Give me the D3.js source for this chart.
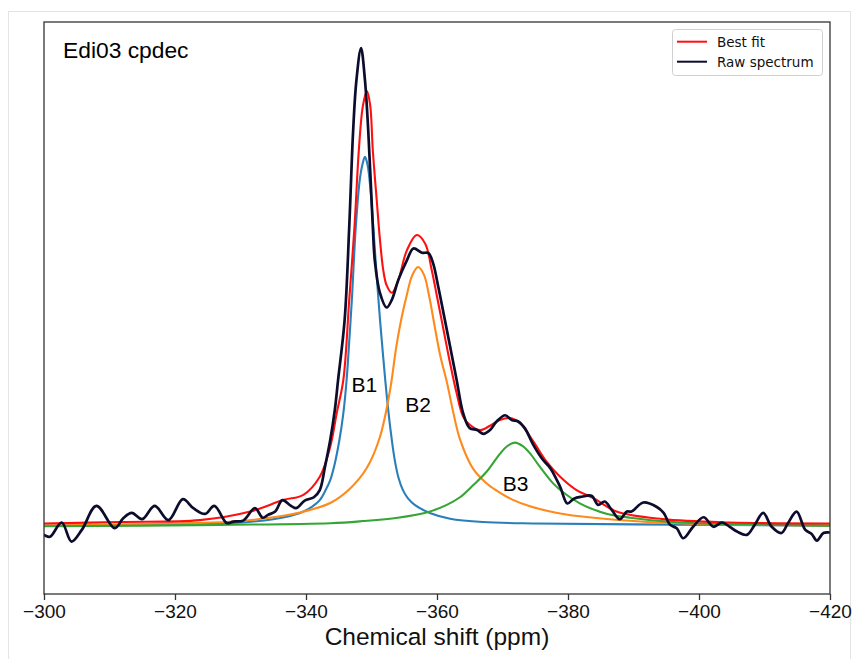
<!DOCTYPE html>
<html>
<head>
<meta charset="utf-8">
<script src="https://cdn.jsdelivr.net/npm/d3@7"></script>
<style>
  html, body { margin: 0; padding: 0; background: #fff; }
  svg { display: block; }
</style>
</head>
<body>
<svg id="chart" width="858" height="659"></svg>
<script>
// ---------- data (chemical shift in ppm, intensity in arbitrary units) ----------
const xTicks = [-300, -320, -340, -360, -380, -400, -420];
const xLimits = [-300, -420];
const yLimits = [-14.5, 105.5];

const rawPpm = [-300.0,-300.9,-302.7,-304.2,-305.8,-308.0,-310.8,-312.1,-313.4,-315.0,-316.9,-319.0,-321.2,-322.8,-324.6,-326.0,-327.9,-328.9,-330.4,-332.2,-333.4,-334.2,-335.3,-336.4,-337.6,-338.5,-339.8,-341.2,-342.1,-342.9,-343.7,-344.4,-344.9,-345.9,-346.6,-347.2,-347.7,-348.4,-349.0,-349.5,-350.2,-350.5,-351.3,-352.3,-353.1,-354.1,-355.4,-356.4,-357.7,-358.7,-359.4,-360.2,-361.0,-362.0,-363.0,-364.0,-365.0,-366.1,-367.1,-368.1,-369.1,-370.4,-371.4,-372.4,-373.4,-374.7,-376.2,-377.3,-378.8,-379.9,-380.9,-382.1,-383.6,-384.6,-385.6,-386.7,-387.9,-389.0,-389.7,-391.5,-393.5,-394.6,-395.6,-396.6,-397.6,-399.1,-400.7,-402.2,-403.5,-404.7,-405.8,-407.3,-408.5,-409.8,-411.1,-412.6,-413.6,-414.9,-416.2,-417.2,-418.0,-419.0,-420.0];
const rawInt = [-2.1,-2.5,0.5,-3.5,-1.0,4.0,-0.7,1.4,2.5,1.2,4.0,1.0,5.4,3.5,2.3,4.0,0.4,0.7,0.9,3.5,1.5,2.1,2.8,5.2,4.1,3.5,5.1,5.8,7.3,12.2,17.8,24.1,30.4,43.0,62.5,82.8,93.3,100.0,93.3,82.8,62.5,55.5,48.6,45.6,47.2,51.4,55.5,58.0,57.1,57.0,54.9,49.9,44.4,37.4,30.4,23.4,20.3,19.9,19.1,19.9,21.7,23.0,22.0,21.7,20.3,16.8,13.6,11.9,8.0,4.5,5.5,5.9,6.1,4.2,4.9,3.1,1.2,2.8,2.8,4.7,3.8,2.5,0.0,-0.7,-2.8,-0.4,1.6,-0.4,0.5,-0.4,-1.4,-2.1,0.0,2.5,-0.4,-1.7,0.4,2.8,-1.0,-1.9,-3.3,-1.7,-1.6];

const fitPpm = [-300.0,-311.6,-323.8,-331.5,-336.5,-339.6,-342.1,-343.7,-344.7,-345.7,-346.6,-347.4,-348.1,-348.7,-349.3,-349.8,-350.2,-350.8,-351.3,-351.8,-352.3,-353.1,-354.1,-355.4,-356.9,-358.2,-359.2,-360.0,-361.0,-362.0,-363.0,-364.0,-365.0,-366.6,-368.1,-369.6,-371.1,-372.7,-374.7,-376.7,-378.8,-381.3,-383.9,-387.4,-394.5,-404.7,-420.0];
const fitInt = [0.3,0.6,1.0,2.8,5.2,6.3,10.1,16.4,23.5,30.4,47.2,62.5,79.3,88.0,91.0,88.0,78.6,68.1,59.7,53.4,50.3,48.7,51.4,57.6,60.8,59.0,53.4,47.9,40.9,33.9,27.6,22.7,21.0,19.9,20.8,22.0,22.4,21.3,17.5,13.3,10.1,7.3,5.6,2.8,1.2,0.5,0.3];

const b1Ppm = [-300.0,-320.0,-329.0,-335.0,-339.1,-341.0,-342.1,-343.0,-343.7,-344.4,-345.1,-345.7,-346.2,-346.6,-347.0,-347.6,-348.2,-348.6,-349.0,-349.4,-349.8,-350.3,-350.8,-351.3,-351.8,-352.3,-352.9,-353.5,-354.1,-354.8,-355.6,-356.6,-358.9,-362.0,-367.0,-375.0,-390.0,-420.0];
const b1Int = [-0.2,0.1,0.4,1.2,2.5,3.9,5.2,7.3,9.4,12.9,17.8,23.4,30.4,38.5,47.2,62.5,72.3,75.5,77.2,75.5,71.0,62.0,52.0,43.0,35.0,27.5,20.0,14.0,10.0,7.3,5.5,4.2,2.5,1.3,0.6,0.3,0.1,-0.15];

const b2Ppm = [-300.0,-320.0,-329.0,-335.0,-339.1,-343.7,-346.7,-349.3,-351.3,-352.8,-353.8,-354.6,-355.4,-356.2,-357.1,-358.0,-358.8,-359.6,-360.5,-361.5,-362.5,-363.5,-365.5,-367.5,-369.1,-371.5,-374.2,-378.0,-381.8,-390.0,-399.6,-420.0];
const b2Int = [-0.15,0.3,0.7,1.6,2.6,4.6,7.6,12.0,18.5,28.0,37.5,43.5,48.3,52.3,54.1,52.5,48.0,42.0,35.5,30.0,23.5,18.0,11.8,8.8,7.2,5.3,3.9,2.6,1.8,0.8,0.2,-0.1];

const b3Ppm = [-300.0,-326.9,-343.7,-348.7,-354.0,-358.4,-361.5,-363.5,-365.5,-367.6,-369.6,-370.7,-371.9,-373.1,-374.2,-375.7,-377.8,-379.3,-381.8,-383.4,-386.0,-389.5,-395.0,-399.6,-420.0];
const b3Int = [-0.3,0.0,0.35,0.8,1.5,2.6,4.2,5.8,8.3,11.2,14.9,16.5,17.25,16.5,15.0,12.2,8.6,6.8,4.5,3.5,2.3,1.5,0.7,0.35,-0.15];

const peakLabels = ["B1", "B2", "B3"];
const peakLabelPpm = [-348.9, -357.1, -372.0];
const peakLabelInt = [29.4, 25.2, 8.6];

const legendLabels = ["Best fit", "Raw spectrum"];
const titleText = "Edi03 cpdec";
const xLabelText = "Chemical shift (ppm)";

// ---------- drawing ----------
const svg = d3.select("#chart");
const W = 858, H = 659;
const m = { left: 44, right: 28, top: 22, bottom: 65 };
const pw = W - m.left - m.right, ph = H - m.top - m.bottom;

// outer light frame of the picture
svg.append("rect").attr("x", 8.5).attr("y", 11.5).attr("width", 842).attr("height", 660)
  .attr("fill", "none").attr("stroke", "#e4e4e4").attr("stroke-width", 1);

const x = d3.scaleLinear().domain(xLimits).range([m.left, m.left + pw]);
const y = d3.scaleLinear().domain(yLimits).range([m.top + ph, m.top]);

svg.append("clipPath").attr("id", "clip").append("rect")
  .attr("x", m.left).attr("y", m.top).attr("width", pw).attr("height", ph);

const line = d3.line().x(d => x(d[0])).y(d => y(d[1])).curve(d3.curveCatmullRom.alpha(0.5));
const zip = (a, b) => a.map((v, i) => [v, b[i]]);

const g = svg.append("g").attr("clip-path", "url(#clip)");
const series = [
  { d: zip(b1Ppm, b1Int), c: "#2a7fba", w: 2.1 },
  { d: zip(b2Ppm, b2Int), c: "#ff8a1c", w: 2.1 },
  { d: zip(b3Ppm, b3Int), c: "#35a535", w: 2.1 },
  { d: zip(fitPpm, fitInt), c: "#ff1010", w: 2.1 },
  { d: zip(rawPpm, rawInt), c: "#0c0c2c", w: 2.7 }
];
series.forEach(s => {
  g.append("path").datum(s.d).attr("d", line)
    .attr("fill", "none").attr("stroke", s.c).attr("stroke-width", s.w)
    .attr("stroke-linejoin", "round").attr("stroke-linecap", "round");
});

// peak labels
peakLabels.forEach((t, i) => {
  svg.append("text").attr("x", x(peakLabelPpm[i])).attr("y", y(peakLabelInt[i]))
    .attr("text-anchor", "middle").attr("dominant-baseline", "central")
    .attr("font-family", "Liberation Sans, Arial, sans-serif").attr("font-size", 21)
    .attr("fill", "#000").text(t);
});

// frame
svg.append("rect").attr("x", m.left).attr("y", m.top).attr("width", pw).attr("height", ph)
  .attr("fill", "none").attr("stroke", "#333").attr("stroke-width", 1.3);

// x axis
const xAxis = d3.axisBottom(x).tickValues(xTicks).tickSizeInner(6).tickSizeOuter(0)
  .tickFormat(d => d3.format("d")(d).replace("-", "\u2212"));
const ax = svg.append("g").attr("transform", `translate(0,${m.top + ph})`).call(xAxis);
ax.select(".domain").remove();
ax.selectAll(".tick line").attr("stroke", "#333").attr("stroke-width", 1.3);
ax.selectAll(".tick text").attr("font-family", "Liberation Sans, Arial, sans-serif")
  .attr("font-size", 19).attr("fill", "#111").attr("dy", "0.8em");

svg.append("text").attr("x", 437).attr("y", 645)
  .attr("text-anchor", "middle").attr("font-family", "Liberation Sans, Arial, sans-serif")
  .attr("font-size", 24.5).attr("fill", "#111").text(xLabelText);

// title inside plot
svg.append("text").attr("x", 63).attr("y", 58)
  .attr("font-family", "Liberation Sans, Arial, sans-serif").attr("font-size", 22.8)
  .attr("fill", "#000").text(titleText);

// legend
const lg = svg.append("g");
lg.append("rect").attr("x", 672.5).attr("y", 29.5).attr("width", 150).attr("height", 46)
  .attr("rx", 3).attr("fill", "#fff").attr("fill-opacity", 0.8)
  .attr("stroke", "#d0d0d0").attr("stroke-width", 1);
const legColors = ["#ff1010", "#0c0c2c"];
legendLabels.forEach((t, i) => {
  const yy = 41.7 + i * 20;
  lg.append("line").attr("x1", 677).attr("x2", 707).attr("y1", yy).attr("y2", yy)
    .attr("stroke", legColors[i]).attr("stroke-width", 2);
  lg.append("text").attr("x", 717).attr("y", yy).attr("dominant-baseline", "central")
    .attr("font-family", "DejaVu Sans, sans-serif").attr("font-size", 13.5)
    .attr("fill", "#111").text(t);
});
</script>
</body>
</html>
